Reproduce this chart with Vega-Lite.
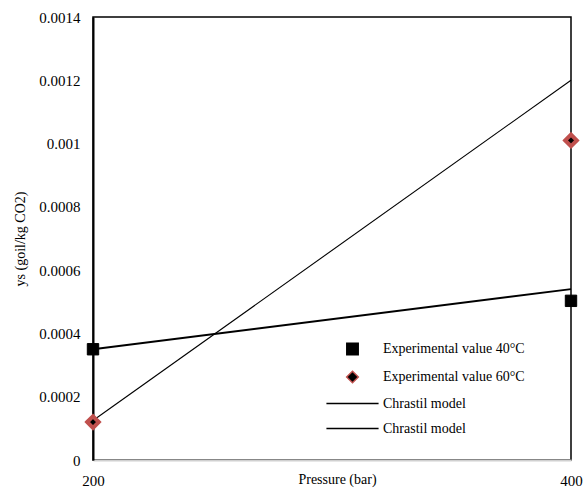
{
  "$schema": "https://vega.github.io/schema/vega-lite/v6.json",
  "width": 478,
  "height": 443,
  "autosize": {"type": "none"},
  "padding": {"left": 93, "top": 17, "right": 13, "bottom": 31},
  "config": {
    "view": {"stroke": "black", "strokeWidth": 1.5},
    "font": "Liberation Serif",
    "axis": {
      "grid": false, "ticks": false, "labelFlush": false,
      "labelFont": "Liberation Serif", "titleFont": "Liberation Serif",
      "labelColor": "black", "titleColor": "black", "titleFontWeight": "normal",
      "labelFontSize": 15, "titleFontSize": 14, "labelPadding": 13
    },
    "legend": {"labelFont": "Liberation Serif", "labelColor": "black", "labelFontSize": 14}
  },
  "datasets": {
    "exp": [
      {"series": "Experimental value 40°C", "pressure": 200, "ys": 0.00035},
      {"series": "Experimental value 40°C", "pressure": 400, "ys": 0.000503},
      {"series": "Experimental value 60°C", "pressure": 200, "ys": 0.00012},
      {"series": "Experimental value 60°C", "pressure": 400, "ys": 0.00101}
    ],
    "model": [
      {"series": "Chrastil model (40°C)", "pressure": 200, "ys": 0.00035},
      {"series": "Chrastil model (40°C)", "pressure": 400, "ys": 0.00054},
      {"series": "Chrastil model (60°C)", "pressure": 200, "ys": 0.000125},
      {"series": "Chrastil model (60°C)", "pressure": 400, "ys": 0.0012}
    ]
  },
  "encoding": {
    "x": {
      "field": "pressure", "type": "quantitative",
      "scale": {"domain": [200, 400], "nice": false, "zero": false},
      "axis": {
        "values": [200, 400], "title": "Pressure (bar)",
        "domainColor": "#d0d0d0", "domainWidth": 2,
        "titleX": 244, "titleY": 23, "titleBaseline": "alphabetic"
      }
    },
    "y": {
      "field": "ys", "type": "quantitative",
      "scale": {"domain": [0, 0.0014], "nice": false},
      "axis": {
        "values": [0, 0.0002, 0.0004, 0.0006, 0.0008, 0.001, 0.0012, 0.0014],
        "format": "~g", "title": "ys (goil/kg CO2)",
        "domainColor": "black", "domainWidth": 2,
        "titleX": -66, "titleY": 221.5
      }
    }
  },
  "layer": [
    {
      "data": {"name": "model"},
      "mark": {"type": "line"},
      "encoding": {
        "detail": {"field": "series"},
        "stroke": {
          "field": "series", "type": "nominal",
          "scale": {
            "domain": ["Experimental value 40°C", "Experimental value 60°C", "Chrastil model (40°C)", "Chrastil model (60°C)"],
            "range": ["black", "#c0504d", "black", "black"]
          }
        },
        "strokeWidth": {
          "field": "series", "type": "nominal",
          "scale": {
            "type": "ordinal",
            "domain": ["Experimental value 40°C", "Experimental value 60°C", "Chrastil model (40°C)", "Chrastil model (60°C)"],
            "range": [0, 1.5, 2, 1.1]
          }
        }
      }
    },
    {
      "data": {"name": "exp"},
      "mark": {"type": "point", "opacity": 1},
      "encoding": {
        "shape": {
          "field": "series", "type": "nominal",
          "scale": {
            "domain": ["Experimental value 40°C", "Experimental value 60°C", "Chrastil model (40°C)", "Chrastil model (60°C)"],
            "range": ["square", "diamond", "M-4,0H4", "M-4,0H4"]
          },
          "legend": {
            "title": null, "orient": "none", "legendX": 252, "legendY": 325,
            "labelOffset": 23, "padding": 0, "rowPadding": 10,
            "labelExpr": "indexof(datum.label,'Chrastil')>=0 ? 'Chrastil model' : datum.label"
          }
        },
        "size": {
          "field": "series", "type": "nominal",
          "scale": {
            "type": "ordinal",
            "domain": ["Experimental value 40°C", "Experimental value 60°C", "Chrastil model (40°C)", "Chrastil model (60°C)"],
            "range": [130, 135, 170, 170]
          }
        },
        "fill": {
          "field": "series", "type": "nominal",
          "scale": {
            "domain": ["Experimental value 40°C", "Experimental value 60°C", "Chrastil model (40°C)", "Chrastil model (60°C)"],
            "range": ["black", "black", "transparent", "transparent"]
          }
        },
        "stroke": {"field": "series", "type": "nominal"},
        "strokeWidth": {"field": "series", "type": "nominal"}
      }
    }
  ]
}
